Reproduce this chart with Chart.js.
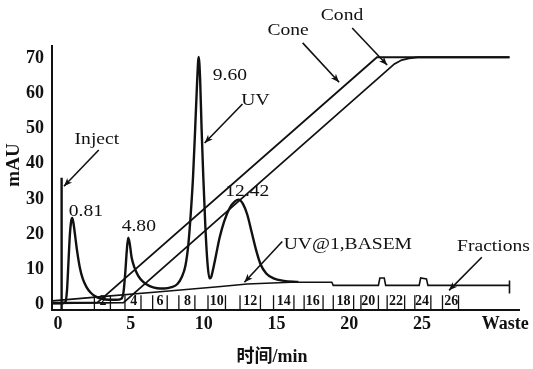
<!DOCTYPE html>
<html>
<head>
<meta charset="utf-8">
<script src="https://cdn.jsdelivr.net/npm/chart.js@4.4.1/dist/chart.umd.min.js"></script>
<style>
  html, body { margin: 0; padding: 0; background: #fff; }
</style>
</head>
<body>
<canvas id="chart" width="533" height="369"></canvas>
<script>
// UV trace (min, mAU)
const uvTime = [-0.4, 0.2, 0.5, 0.62, 0.72, 0.82, 0.92, 0.98, 1.06, 1.18, 1.32, 1.5, 1.7, 1.95, 2.25, 2.6, 3.0, 3.5, 4.0, 4.35,
  4.5, 4.62, 4.72, 4.82, 4.92, 5.05, 5.25, 5.5, 5.85, 6.3, 6.8, 7.3, 7.8, 8.2, 8.5, 8.75, 8.95, 9.12, 9.27, 9.42,
  9.55, 9.66, 9.76, 9.86, 9.98, 10.12, 10.26, 10.4, 10.5, 10.65, 10.85, 11.1, 11.4, 11.8, 12.15, 12.4, 12.7, 13.0, 13.3, 13.6,
  13.9, 14.3, 14.8, 15.5, 16.5];
const uvSignal = [0.3, 0.3, 0.6, 4, 12, 20, 24, 24.6, 23.2, 19.5, 15, 10.5, 7.3, 5, 3.3, 2.2, 1.6, 1.3, 1.3, 1.6,
  3.5, 9, 15, 19, 17.5, 13.5, 10.5, 8.2, 6.4, 5.2, 4.6, 4.5, 4.9, 5.8, 7.8, 11, 17, 26, 36, 50,
  63, 70.4, 64, 50, 36, 22, 12, 7.4, 7.6, 10, 14, 19, 23.5, 27.5, 29.3, 29.8, 28.6, 25.5, 20.5, 15.5,
  11.5, 8.8, 7.4, 6.7, 6.4];

// UV@1,BASEM trace
const baseTime = [-0.4, 3, 7, 11, 13, 16, 18.8, 18.9, 22.0, 22.1, 22.4, 22.5, 24.8, 24.9, 25.3, 25.4, 31.0, 31.0, 31.0];
const baseSignal = [1.0, 2.2, 3.6, 5.0, 5.8, 6.3, 6.3, 5.4, 5.4, 7.5, 7.5, 5.4, 5.4, 7.5, 7.2, 5.4, 5.4, 6.8, 3.1];

// gradient lines
const coneTime = [-0.4, 2.7, 21.9, 31.0];
const coneValue = [0.5, 0.5, 70.3, 70.3];
const condTime = [-0.4, 4.5, 23.1, 23.6, 24.1, 24.7, 31.0];
const condValue = [0.3, 0.5, 68.4, 69.5, 70.0, 70.3, 70.3];

// injection mark
const injectTime = 0.25;
const injectTop = 36;

// fractions
const fracTickTime = [2.5, 3.6, 4.6, 5.7, 6.5, 7.5, 8.3, 9.4, 10.3, 11.5, 12.5, 13.9, 14.8, 16.2, 16.9, 18.2, 18.9,
  20.3, 20.8, 22.0, 22.6, 23.8, 24.5, 25.6, 26.4, 27.5];
const fracLabels = ['2', '4', '6', '8', '10', '12', '14', '16', '18', '20', '22', '24', '26'];
const fracLabelTime = [3.1, 5.2, 7.0, 8.9, 10.9, 13.2, 15.5, 17.5, 19.6, 21.3, 23.2, 25.0, 27.0];

// axes
const xTickValues = [0, 5, 10, 15, 20, 25, 30.7];
const xTickLabels = ['0', '5', '10', '15', '20', '25', 'Waste'];
const yTickValues = [0, 10, 20, 30, 40, 50, 60, 70];
const xTitle = '时间/min';
const yTitle = 'mAU';

// text notes and arrows, in data units
const notes = [
  { text: 'Inject', x: 2.67, y: 47 },
  { text: '0.81', x: 1.92, y: 26.5 },
  { text: '4.80', x: 5.55, y: 22.2 },
  { text: '9.60', x: 11.8, y: 65 },
  { text: 'UV', x: 13.56, y: 58.1 },
  { text: '12.42', x: 13.0, y: 32.2 },
  { text: 'Cone', x: 15.8, y: 77.8 },
  { text: 'Cond', x: 19.5, y: 82.3 },
  { text: 'UV@1,BASEM', x: 19.9, y: 17.1 },
  { text: 'Fractions', x: 29.9, y: 16.5 }
];
const arrows = [
  [2.8, 43.9, 0.41, 33.6],
  [12.67, 57, 10.07, 45.9],
  [16.8, 74.4, 19.3, 63.2],
  [20.2, 78.6, 22.6, 68.1],
  [15.4, 17.9, 12.8, 6.3],
  [29.1, 13.4, 26.85, 4.0]
];

const Y_MIN = -1.6;
const ink = '#111';
const serif = '"Liberation Serif", "Times New Roman", serif';

const zip = (xs, ys) => xs.map((x, i) => ({ x: x, y: ys[i] }));

const fracSegments = [];
for (const t of fracTickTime) {
  fracSegments.push({ x: t, y: Y_MIN }, { x: t, y: 2.6 }, { x: t, y: null });
}

const line = (data, width, extra) => Object.assign({
  data: data,
  borderColor: ink,
  borderWidth: width,
  pointRadius: 0,
  fill: false,
  tension: 0
}, extra || {});

const notesPlugin = {
  id: 'notes',
  afterDatasetsDraw(chart) {
    const ctx = chart.ctx;
    const xs = chart.scales.x;
    const ys = chart.scales.y;
    ctx.save();
    ctx.fillStyle = ink;
    ctx.strokeStyle = ink;
    ctx.textAlign = 'center';
    ctx.textBaseline = 'middle';

    ctx.font = '17px ' + serif;
    for (const n of notes) {
      ctx.save();
      ctx.translate(xs.getPixelForValue(n.x), ys.getPixelForValue(n.y));
      ctx.scale(1.15, 1);
      ctx.fillText(n.text, 0, 0);
      ctx.restore();
    }

    ctx.lineWidth = 1.6;
    for (const a of arrows) {
      const x1 = xs.getPixelForValue(a[0]), y1 = ys.getPixelForValue(a[1]);
      const x2 = xs.getPixelForValue(a[2]), y2 = ys.getPixelForValue(a[3]);
      ctx.beginPath();
      ctx.moveTo(x1, y1);
      ctx.lineTo(x2, y2);
      ctx.stroke();
      const ang = Math.atan2(y2 - y1, x2 - x1);
      ctx.beginPath();
      ctx.moveTo(x2, y2);
      ctx.lineTo(x2 - 9 * Math.cos(ang - 0.38), y2 - 9 * Math.sin(ang - 0.38));
      ctx.lineTo(x2 - 6 * Math.cos(ang), y2 - 6 * Math.sin(ang));
      ctx.lineTo(x2 - 9 * Math.cos(ang + 0.38), y2 - 9 * Math.sin(ang + 0.38));
      ctx.closePath();
      ctx.fill();
    }

    ctx.font = 'bold 14px ' + serif;
    const fy = ys.getPixelForValue(0.9);
    fracLabels.forEach((lab, i) => {
      ctx.fillText(lab, xs.getPixelForValue(fracLabelTime[i]), fy);
    });

    // axis titles
    ctx.font = 'bold 18px "Liberation Serif", "Noto Sans CJK SC", serif';
    ctx.fillText(xTitle, 272, 357);
    ctx.save();
    ctx.translate(14, 165);
    ctx.rotate(-Math.PI / 2);
    ctx.font = 'bold 19px ' + serif;
    ctx.fillText(yTitle, 0, 0);
    ctx.restore();
    ctx.restore();
  }
};

new Chart(document.getElementById('chart'), {
  type: 'line',
  data: {
    datasets: [
      line(zip(uvTime, uvSignal), 2.4, { cubicInterpolationMode: 'monotone' }),
      line(zip(baseTime, baseSignal), 1.6),
      line(zip(coneTime, coneValue), 1.8),
      line(zip(condTime, condValue), 1.8),
      line([{ x: injectTime, y: Y_MIN }, { x: injectTime, y: injectTop }], 2.4),
      line(fracSegments, 1.3, { spanGaps: false })
    ]
  },
  options: {
    responsive: false,
    animation: false,
    devicePixelRatio: 1,
    layout: { padding: { top: 46, right: 12, bottom: 0, left: 0 } },
    plugins: {
      legend: { display: false },
      tooltip: { enabled: false }
    },
    scales: {
      x: {
        type: 'linear',
        min: -0.41,
        max: 31.7,
        afterBuildTicks: (axis) => { axis.ticks = xTickValues.map(v => ({ value: v })); },
        afterFit: (axis) => { axis.height = 59; },
        grid: { display: true, drawOnChartArea: false, drawTicks: false },
        border: { display: true, color: ink, width: 2 },
        ticks: {
          color: ink,
          padding: 4,
          maxRotation: 0,
          autoSkip: false,
          font: { family: serif, size: 18, weight: 'bold' },
          callback: (value, index) => xTickLabels[index]
        }
      },
      y: {
        min: Y_MIN,
        max: 73.5,
        afterBuildTicks: (axis) => { axis.ticks = yTickValues.map(v => ({ value: v })); },
        afterFit: (axis) => { axis.width = 52; },
        grid: { display: true, drawOnChartArea: false, drawTicks: false },
        border: { display: true, color: ink, width: 2 },
        ticks: {
          color: ink,
          padding: 8,
          font: { family: serif, size: 18, weight: 'bold' }
        }
      }
    }
  },
  plugins: [notesPlugin]
});
</script>
</body>
</html>
